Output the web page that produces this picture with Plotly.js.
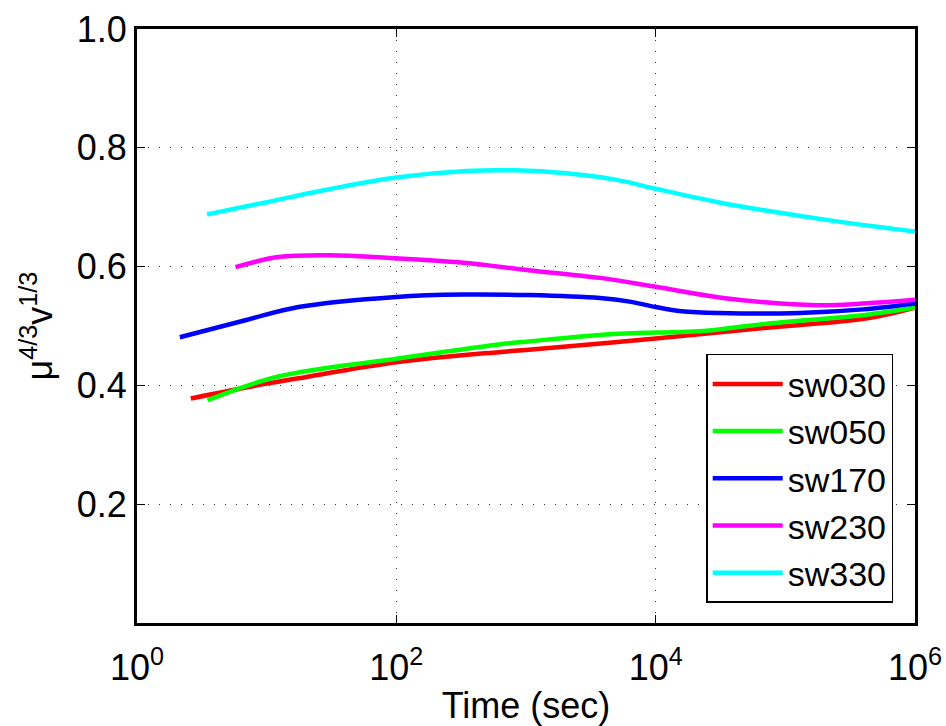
<!DOCTYPE html>
<html>
<head>
<meta charset="utf-8">
<script src="https://cdn.plot.ly/plotly-3.0.1.min.js"></script>
<style>html,body{margin:0;padding:0;background:#fff;}#chart{width:946px;height:726px;}</style>
</head>
<body>
<div id="chart"></div>
<script>
// Series data (time in seconds, value of mu^(4/3) v^(1/3))
const sw030_t = [2.6, 10, 17.6, 100, 617, 1050, 10000, 72000, 427000, 1000000];
const sw030_y = [0.378, 0.403, 0.412, 0.439, 0.456, 0.460, 0.479, 0.497, 0.513, 0.531];

const sw050_t = [3.5, 12.3, 100, 617, 1050, 3715, 10000, 21900, 72400, 427000, 1000000];
const sw050_y = [0.375, 0.415, 0.445, 0.469, 0.474, 0.485, 0.489, 0.491, 0.504, 0.519, 0.531];

const sw170_t = [2.14, 7.2, 17.6, 100, 331, 1050, 3715, 6310, 10000, 15850, 30900, 128800, 398000, 1000000];
const sw170_y = [0.481, 0.511, 0.532, 0.549, 0.553, 0.552, 0.547, 0.541, 0.532, 0.525, 0.522, 0.522, 0.528, 0.538];

const sw230_t = [5.75, 12.3, 30.2, 100, 316, 1050, 3715, 10000, 30900, 91200, 218800, 1000000];
const sw230_y = [0.599, 0.616, 0.619, 0.614, 0.607, 0.594, 0.581, 0.566, 0.548, 0.538, 0.535, 0.544];

const sw330_t = [3.47, 9.8, 31.6, 100, 347, 832, 2040, 5010, 10000, 30900, 72400, 234000, 1000000];
const sw330_y = [0.688, 0.708, 0.731, 0.750, 0.761, 0.762, 0.757, 0.746, 0.731, 0.708, 0.694, 0.677, 0.659];

const seriesNames = ['sw030', 'sw050', 'sw170', 'sw230', 'sw330'];
const seriesColors = ['#ff0000', '#00ff00', '#0000ff', '#ff00ff', '#00ffff'];

const xTickVals = [1, 100, 10000, 1000000];
const xTickText = ['10<sup>0</sup>', '10<sup>2</sup>', '10<sup>4</sup>', '10<sup>6</sup>'];
const yTickVals = [0.2, 0.4, 0.6, 0.8, 1.0];
const yTickText = ['0.2', '0.4', '0.6', '0.8', '1.0'];

const xs = [sw030_t, sw050_t, sw170_t, sw230_t, sw330_t];
const ys = [sw030_y, sw050_y, sw170_y, sw230_y, sw330_y];

const traces = seriesNames.map((name, i) => ({
  type: 'scatter',
  mode: 'lines',
  name: name,
  x: xs[i],
  y: ys[i],
  line: {color: seriesColors[i], width: 4.5, shape: 'spline', smoothing: 1}
}));

const FAM = '"Liberation Sans", Arial, Helvetica, sans-serif';
const FS = 36;
const font = {family: FAM, size: FS, color: '#000'};

const layout = {
  width: 946,
  height: 726,
  margin: {l: 137, r: 31, t: 29, b: 103},
  paper_bgcolor: '#fff',
  plot_bgcolor: '#fff',
  font: font,
  showlegend: true,
  legend: {
    x: 0.972, y: 0.034, xanchor: 'right', yanchor: 'bottom',
    bgcolor: '#fff', bordercolor: '#000', borderwidth: 1.5,
    font: {family: FAM, size: 34, color: '#000'},
    itemwidth: 70, tracegroupgap: 0
  },
  xaxis: {
    type: 'log',
    range: [0, 6],
    tickmode: 'array',
    tickvals: xTickVals,
    ticktext: xTickText,
    ticks: 'inside',
    ticklen: 8,
    tickwidth: 1,
    tickcolor: '#000',
    showline: true,
    linecolor: '#000',
    linewidth: 3,
    mirror: 'ticks',
    showgrid: true,
    gridcolor: '#333',
    griddash: '1px,10px',
    gridwidth: 1,
    zeroline: false,
    ticklabelstandoff: 11,
    tickfont: {family: FAM, size: FS, color: '#000'},
    title: {text: 'Time (sec)', font: {family: FAM, size: FS, color: '#000'}, standoff: 8}
  },
  yaxis: {
    range: [0, 1],
    tickmode: 'array',
    tickvals: yTickVals,
    ticktext: yTickText,
    ticks: 'inside',
    ticklen: 8,
    tickwidth: 1,
    tickcolor: '#000',
    showline: true,
    linecolor: '#000',
    linewidth: 3,
    mirror: 'ticks',
    showgrid: true,
    gridcolor: '#333',
    griddash: '1px,10px',
    gridwidth: 1,
    zeroline: false,
    tickfont: {family: FAM, size: FS, color: '#000'},
    title: {text: 'μ<sup>4/3</sup>v<sup>1/3</sup>', font: {family: FAM, size: FS, color: '#000'}, standoff: 14}
  }
};

Plotly.newPlot('chart', traces, layout, {displayModeBar: false, staticPlot: true});
</script>
</body>
</html>
